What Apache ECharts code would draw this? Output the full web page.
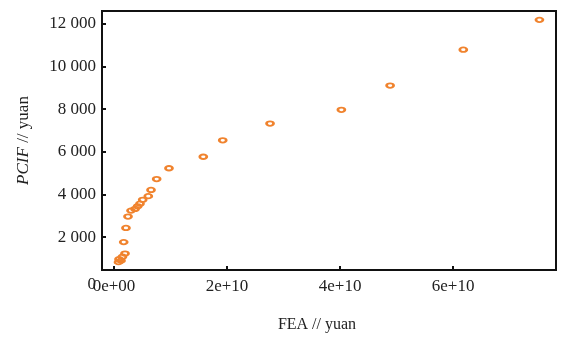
<!DOCTYPE html>
<html>
<head>
<meta charset="utf-8">
<script src="https://cdn.jsdelivr.net/npm/echarts@6/dist/echarts.min.js"></script>
<style>
html,body{margin:0;padding:0;background:#fff;}
#main{width:561px;height:338px;}
</style>
</head>
<body>
<div id="main"></div>
<script>
// FEA (yuan) / PCIF (yuan)
var feaValues = [0.80e9, 0.89e9, 1.24e9, 1.50e9, 1.95e9, 1.72e9, 2.12e9, 2.48e9, 3.01e9, 3.72e9,
    4.19e9, 4.60e9, 5.08e9, 6.07e9, 6.55e9, 7.55e9, 9.73e9, 1.58e10, 1.924e10, 2.761e10,
    4.023e10, 4.885e10, 6.18e10, 7.527e10];
var pcifValues = [830, 969, 900, 1084, 1232, 1768, 2432, 2967, 3244, 3323,
    3447, 3567, 3752, 3922, 4214, 4722, 5229, 5768, 6539, 7324,
    7970, 9105, 10785, 12183];

var xTickValues = [0, 2e10, 4e10, 6e10];
var xTickLabels = ['0e+00', '2e+10', '4e+10', '6e+10'];
var yTickValues = [2000, 4000, 6000, 8000, 10000, 12000];
var yTickLabels = ['2 000', '4 000', '6 000', '8 000', '10 000', '12 000'];

var xMin = -2.12e9, xMax = 7.82e10;
var yMin = 461, yMax = 12598;

var points = [];
for (var i = 0; i < feaValues.length; i++) {
    points.push([feaValues[i], pcifValues[i]]);
}

var font = '"Liberation Serif", "DejaVu Serif", serif';
var myChart = echarts.init(document.getElementById('main'));

var option = {
    animation: false,
    backgroundColor: '#fff',
    grid: {
        left: 102,
        right: 5,
        top: 11,
        bottom: 64,
        show: true,
        borderColor: '#111',
        borderWidth: 2
    },
    xAxis: {
        type: 'value',
        min: xMin,
        max: xMax,
        name: 'FEA // yuan',
        nameLocation: 'middle',
        nameGap: 47,
        nameTextStyle: {
            color: '#222',
            fontFamily: font,
            fontSize: 16,
            padding: [0, 24, 0, 0]
        },
        axisLine: {onZero: false, lineStyle: {color: '#111', width: 2}},
        axisTick: {
            inside: true,
            length: 4,
            customValues: xTickValues,
            lineStyle: {color: '#111', width: 2}
        },
        axisLabel: {
            customValues: xTickValues,
            color: '#222',
            fontFamily: font,
            fontSize: 17,
            margin: 8,
            formatter: function (v) {
                var k = xTickValues.indexOf(v);
                return k >= 0 ? xTickLabels[k] : '';
            }
        },
        splitLine: {show: false}
    },
    yAxis: {
        type: 'value',
        min: yMin,
        max: yMax,
        name: '{i|PCIF} // yuan',
        nameLocation: 'middle',
        nameGap: 70,
        nameTextStyle: {
            color: '#222',
            fontFamily: font,
            fontSize: 17,
            rich: {
                i: {fontStyle: 'italic', fontFamily: font, fontSize: 17, color: '#222'}
            }
        },
        axisLine: {onZero: false, lineStyle: {color: '#111', width: 2}},
        axisTick: {
            inside: true,
            length: 4,
            customValues: yTickValues,
            lineStyle: {color: '#111', width: 2}
        },
        axisLabel: {
            customValues: [yMin].concat(yTickValues),
            color: '#222',
            fontFamily: font,
            fontSize: 17,
            margin: 6,
            formatter: function (v) {
                if (v === yMin) return '{z|0}';   // 0 sits just below the frame
                var k = yTickValues.indexOf(v);
                return k >= 0 ? yTickLabels[k] : '';
            },
            rich: {
                z: {padding: [30, 0, 0, 0], fontFamily: font, fontSize: 17, color: '#222'}
            }
        },
        splitLine: {show: false}
    },
    series: [
        {
            type: 'scatter',
            data: points,
            symbol: 'circle',
            symbolSize: [7, 4.5],
            silent: true,
            itemStyle: {
                color: 'rgba(255,255,255,0)',
                borderColor: '#F0832E',
                borderWidth: 2.2,
                opacity: 1
            }
        }
    ]
};

myChart.setOption(option);
</script>
</body>
</html>
